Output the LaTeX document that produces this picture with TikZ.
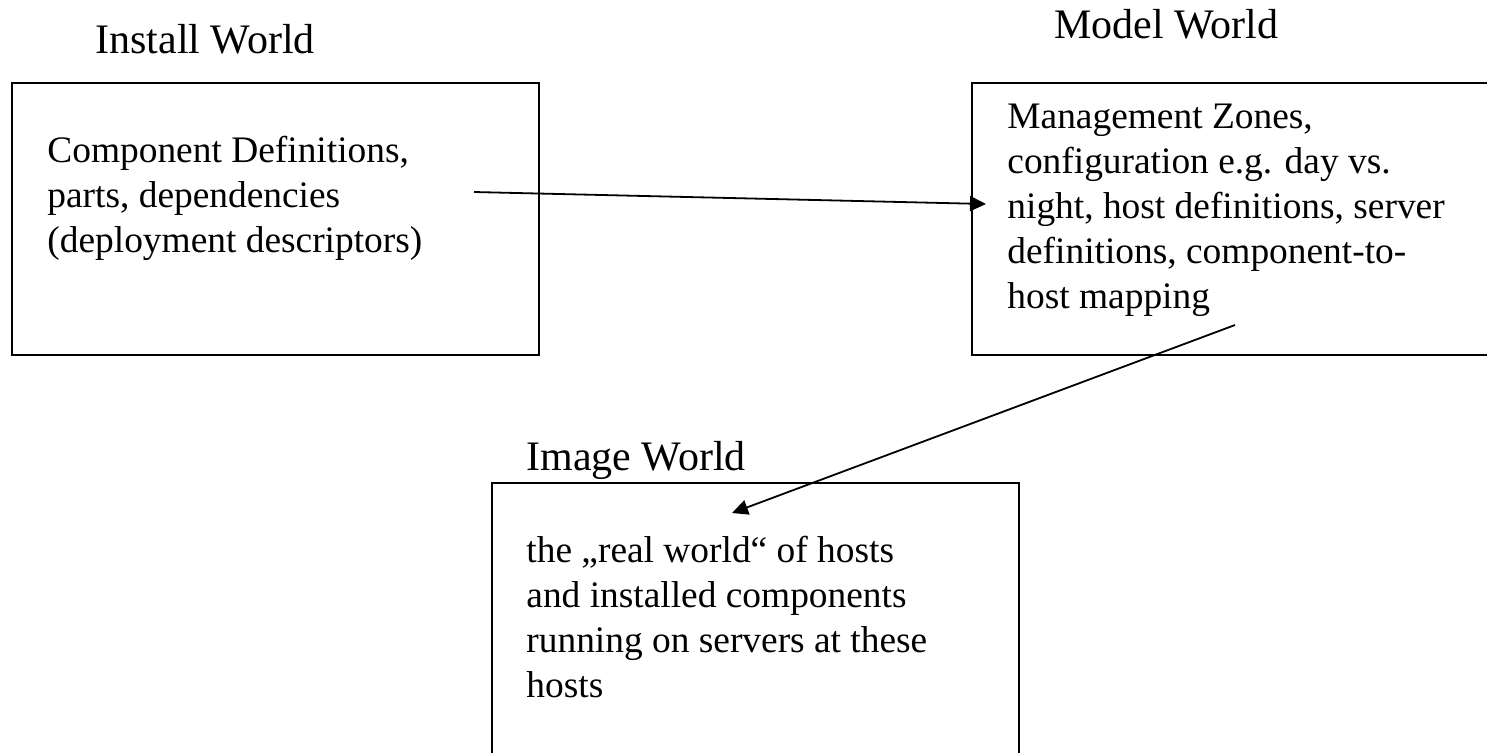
\documentclass[tikz,border=0pt]{standalone}
\usepackage{fontspec}
\setmainfont{Liberation Serif}
\usetikzlibrary{arrows.meta}

\tikzset{
  world/.style={font=\fontsize{21}{25}\selectfont, anchor=base west, inner sep=0pt},
  line/.style={font=\fontsize{18.7}{22.5}\selectfont, anchor=base west, inner sep=0pt},
  worldbox/.style={draw, line width=1.1pt, anchor=north west, inner sep=0pt},
  flow/.style={-{Triangle[length=8pt,width=7.5pt]}, line width=0.9pt},
}

\begin{document}
\begin{tikzpicture}[x=0.5pt, y=-0.5pt]
\useasboundingbox (0,0) rectangle (1487,752);

\node[world] (t1) at (95,53)   {Install World};
\node[world] (t2) at (1054,38) {Model World};
\node[world] (t3) at (526,470) {Image World};

\node[worldbox, minimum width=263.5pt, minimum height=136pt] (install) at (11,82)  {};
\node[worldbox, minimum width=270pt,   minimum height=136pt] (model)   at (971,82) {};
\node[worldbox, minimum width=263.5pt, minimum height=150pt] (image)   at (491,482) {};

% box texts, one node per line
\foreach \t [count=\i] in {{Component Definitions,},{parts, dependencies},{(deployment descriptors)}}
  \node[line] (install-\i) at (47,117+45*\i) {\t};
\foreach \t [count=\i] in {{Management Zones,},{configuration e.g. day vs.},{night, host definitions, server},{definitions, component-to-},{host mapping}}
  \node[line] (model-\i) at (1007,83+45*\i) {\t};
\foreach \t [count=\i] in {{the „real world“ of hosts},{and installed components},{running on servers at these},{hosts}}
  \node[line] (image-\i) at (526,517+45*\i) {\t};

\coordinate (a1) at (474,192);
\coordinate (b1) at (986,204);
\coordinate (a2) at (1235,325);
\coordinate (b2) at (732,513);
\draw[flow] (a1) -- (b1);
\draw[flow] (a2) -- (b2);
\end{tikzpicture}
\end{document}
